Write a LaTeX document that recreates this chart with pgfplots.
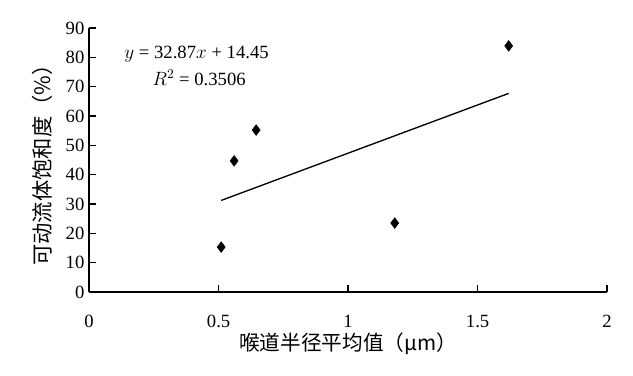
\documentclass[border=0pt]{standalone}
\usepackage{pgfplots}
\pgfplotsset{compat=1.18}
\usepackage{fontspec}
\setmainfont{Liberation Serif}
\newfontfamily\cjk{Noto Sans CJK SC}
\begin{document}
\begin{tikzpicture}
\begin{axis}[
  width=388.5pt, height=198pt, scale only axis,
  xmin=0, xmax=2, ymin=0, ymax=90,
  axis lines*=left,
  axis line style={line width=1.2pt},
  xtick={0,0.5,1,1.5,2},
  xticklabels={0,0.5,1,1.5,2},
  ytick={0,10,...,90},
  tick align=inside,
  major tick length=5pt,
  tick style={line width=1.1pt, black},
  xticklabel shift=14pt,
  /pgf/number format/assume math mode=true,
  tick label style={font=\fontsize{14}{16}\selectfont},
  xlabel={\cjk 喉道半径平均值（μm）},
  ylabel={\cjk 可动流体饱和度（\%）},
  xlabel style={font=\fontsize{15.5}{17}\selectfont, yshift=3pt},
  ylabel style={font=\fontsize{16}{17}\selectfont, yshift=3pt},
  clip=false,
]
\addplot[only marks, mark=diamond*, mark size=4pt, black] coordinates {
  (0.51,15.3) (0.56,44.7) (0.645,55.2) (1.18,23.5) (1.62,83.9)
};
\addplot[black, line width=1pt] coordinates {(0.51,31.21) (1.62,67.70)};
\node[font=\fontsize{14}{16}\selectfont] at (axis cs:0.415,81) {$y$ = 32.87$x$ + 14.45};
\node[font=\fontsize{14}{16}\selectfont] at (axis cs:0.425,73) {$R^2$ = 0.3506};
\path (rel axis cs:-0.172,-0.318) rectangle (rel axis cs:1.05,1.106);
\end{axis}
\end{tikzpicture}
\end{document}
